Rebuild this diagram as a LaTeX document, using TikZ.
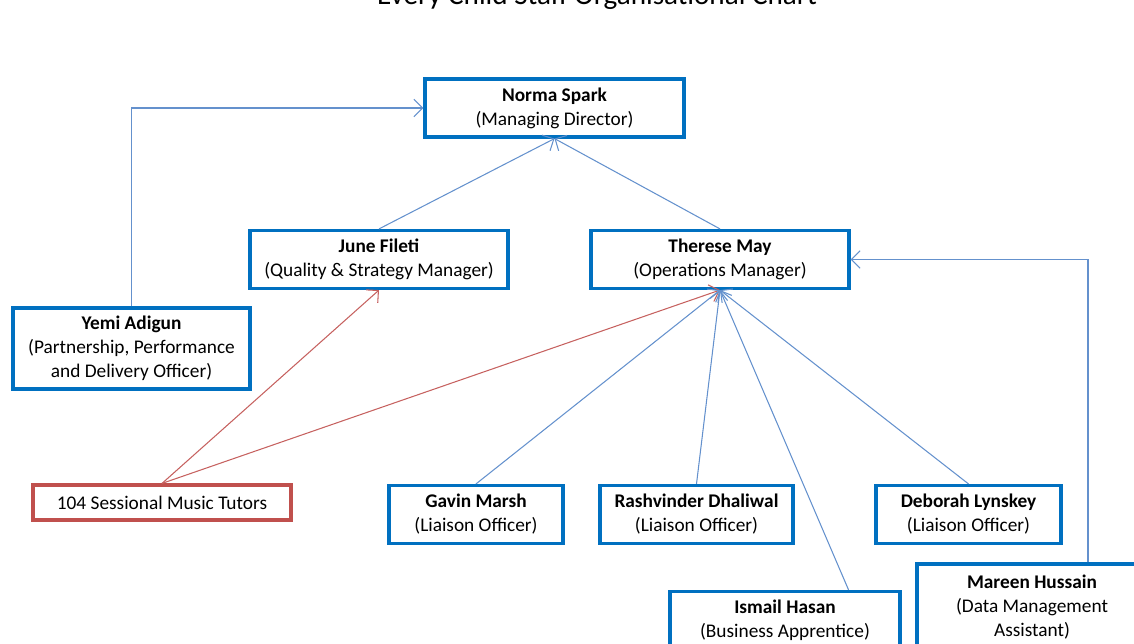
\documentclass[tikz,border=0pt]{standalone}
\usepackage{fontspec}
\setmainfont{Carlito}
\usetikzlibrary{arrows.meta, positioning}
\definecolor{BoxBlue}{RGB}{0,112,192}
\definecolor{LinkBlue}{RGB}{100,145,205}
\definecolor{TutorRed}{RGB}{192,80,77}
\newcommand{\who}[2]{\textbf{#1}\\(#2)}
\tikzset{
  staff/.style={draw=BoxBlue, line width=1.8pt, fill=white, align=center, minimum height=1.16cm, inner sep=2pt, font=\fontsize{11}{13.6}\selectfont},
  tutors/.style={staff, draw=TutorRed, minimum height=0.7cm},
  link/.style={LinkBlue, line width=0.6pt, -{Straight Barb[length=5pt,width=10pt]}},
  tutorlink/.style={link, TutorRed!90}
}

\begin{document}
\begin{tikzpicture}[x=0.02cm, y=-0.02cm]
    \useasboundingbox (0,0) rectangle (1134,644);

    % Title (cut by the page edge)
    \node[font=\fontsize{16.6}{18}\selectfont, anchor=base] (title) at (597,5) {Every Child Staff Organisational Chart};

    % Management
    \node[staff, minimum width=5.18cm] (norma) at (554.5,108) {\who{Norma Spark}{Managing Director}};
    \node[staff, minimum width=5.16cm] (june) at (379,259.5) {\who{June Fileti}{Quality \& Strategy Manager}};
    \node[staff, minimum width=5.16cm] (therese) at (720,259.5) {\who{Therese May}{Operations Manager}};
    \node[staff, minimum width=4.74cm, minimum height=1.62cm] (yemi) at (131.5,348.5) {\textbf{Yemi Adigun}\\(Partnership, Performance\\and Delivery Officer)};

    % Staff
    \node[tutors, minimum width=5.16cm] (tutorsbox) at (162,502.5) {104 Sessional Music Tutors};
    \node[staff, minimum width=3.48cm] (gavin) at (476,514.5) {\who{Gavin Marsh}{Liaison Officer}};
    \node[staff, minimum width=3.86cm] (rashvinder) at (696.5,514.5) {\who{Rashvinder Dhaliwal}{Liaison Officer}};
    \node[staff, minimum width=3.70cm] (deborah) at (968.5,514.5) {\who{Deborah Lynskey}{Liaison Officer}};
    \node[staff, minimum width=4.60cm] (ismail) at (785,620.5) {\who{Ismail Hasan}{Business Apprentice}};
    \node[staff, minimum width=4.60cm, minimum height=1.72cm] (mareen) at (1032,607) {\textbf{Mareen Hussain}\\(Data Management\\Assistant)};

    % Reporting lines
    \draw[link] (june.north) -- (norma.south);
    \draw[link] (therese.north) -- (norma.south);
    \draw[link] (yemi.north) |- (norma.west);
    \draw[tutorlink] (tutorsbox.north) -- (june.south);
    \draw[tutorlink] (tutorsbox.north) -- (therese.south);
    \draw[link] (gavin.north) -- (therese.south);
    \draw[link] (rashvinder.north) -- (therese.south);
    \draw[link] (deborah.north) -- (therese.south);
    \draw[link] ([xshift=-1.06cm]ismail.north east) -- (therese.south);
    \draw[link] ([xshift=1.12cm]mareen.north) |- (therese.east);
\end{tikzpicture}
\end{document}
